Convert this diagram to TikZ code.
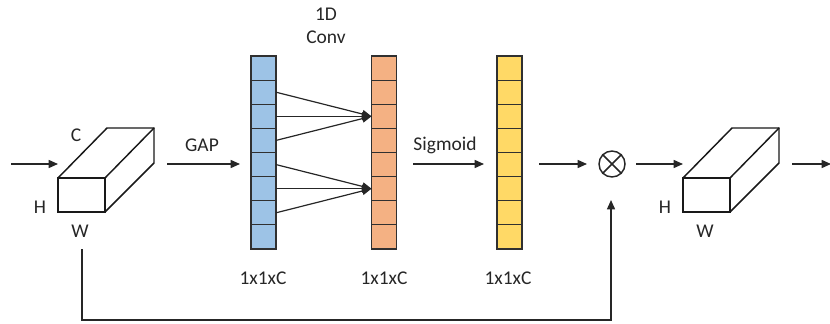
\documentclass[tikz,border=0pt]{standalone}
\usepackage{fontspec}
\setmainfont{Carlito}
\usetikzlibrary{arrows.meta}
\definecolor{cblue}{HTML}{9DC3E6}
\definecolor{corange}{HTML}{F4B183}
\definecolor{cyellow}{HTML}{FFD966}
\definecolor{cedge}{HTML}{303030}
\begin{document}
\begin{tikzpicture}[x=0.75pt,y=-0.75pt,line width=1.1pt,line join=miter,
  lbl/.style={font=\fontsize{14.6}{17}\selectfont,inner sep=0pt,text=black!85},
  arr/.style={draw=black!85,-{Triangle[length=7pt,width=6pt]}},
  cell/.style={draw=cedge,line width=0.8pt,minimum width=18.75pt,minimum height=18.1pt,inner sep=0pt,outer sep=0pt},
  mult/.style={circle,draw=black!85,minimum size=19.5pt,inner sep=0pt}]
\useasboundingbox (0,0) rectangle (830,324);
% cuboids
\foreach \x/\n in {58/L,683/R}{
  \draw[black!90] (\x,178) rectangle (\x+47,212);
  \draw[black!90] (\x,178) -- (\x+49,128) -- (\x+96,128) -- (\x+96,163) -- (\x+47,212);
  \draw[black!90] (\x+47,178) -- (\x+96,128);
}
\coordinate (inS) at (11,164);
\coordinate (inE) at (58,164);
\coordinate (gapS) at (167,164);
\coordinate (gapE) at (240,164);
\node[lbl] (cL) at (76,135) {C};
\node[lbl] (hL) at (40,207) {H};
\node[lbl] (wL) at (80,231) {W};
\node[lbl] (hR) at (665,207) {H};
\node[lbl] (wR) at (705,231) {W};
% columns
\foreach \c/\x/\n in {cblue/263.5/b,corange/384/o,cyellow/509.5/y}{
  \foreach \i in {1,...,8}{
    \node[cell,fill=\c] (\n\i) at (\x,{56+24.125*(\i-0.5)}) {};
  }
}
% conv arrows
\foreach \s in {2,3,4}{\draw[arr,line width=0.9pt] (b\s.east) -- (o3.west);}
\foreach \s in {5,6,7}{\draw[arr,line width=0.9pt] (b\s.east) -- (o6.west);}
\node[lbl,align=center] (conv) at (326,26) {1D\\Conv};
\node[lbl] (gap) at (202,145) {GAP};
\node[lbl] (sig) at (445,145) {Sigmoid};
\node[lbl] (s1) at (263,278) {1x1xC};
\node[lbl] (s2) at (384,278) {1x1xC};
\node[lbl] (s3) at (508,278) {1x1xC};
\coordinate (sigS) at (413,164);
\coordinate (sigE) at (484,164);
\coordinate (yS) at (539,164);
\coordinate (yE) at (587,164);
\node[mult] (m) at (612,164) {};
\draw[black!85] (m.45) -- (m.225) (m.135) -- (m.-45);
\coordinate (mS) at (636,164);
\coordinate (rIn) at (683,164);
\coordinate (oS) at (792,164);
\coordinate (oE) at (831,164);
\coordinate (skipS) at (82,249);
\coordinate (skipB) at (82,320);
\coordinate (skipE) at (611,200);
\draw[arr] (inS) -- (inE);
\draw[arr] (gapS) -- (gapE);
\draw[arr] (sigS) -- (sigE);
\draw[arr] (yS) -- (yE);
\draw[arr] (mS) -- (rIn);
\draw[arr] (oS) -- (oE);
\draw[arr] (skipS) -- (skipB) -| (skipE);
\end{tikzpicture}
\end{document}
